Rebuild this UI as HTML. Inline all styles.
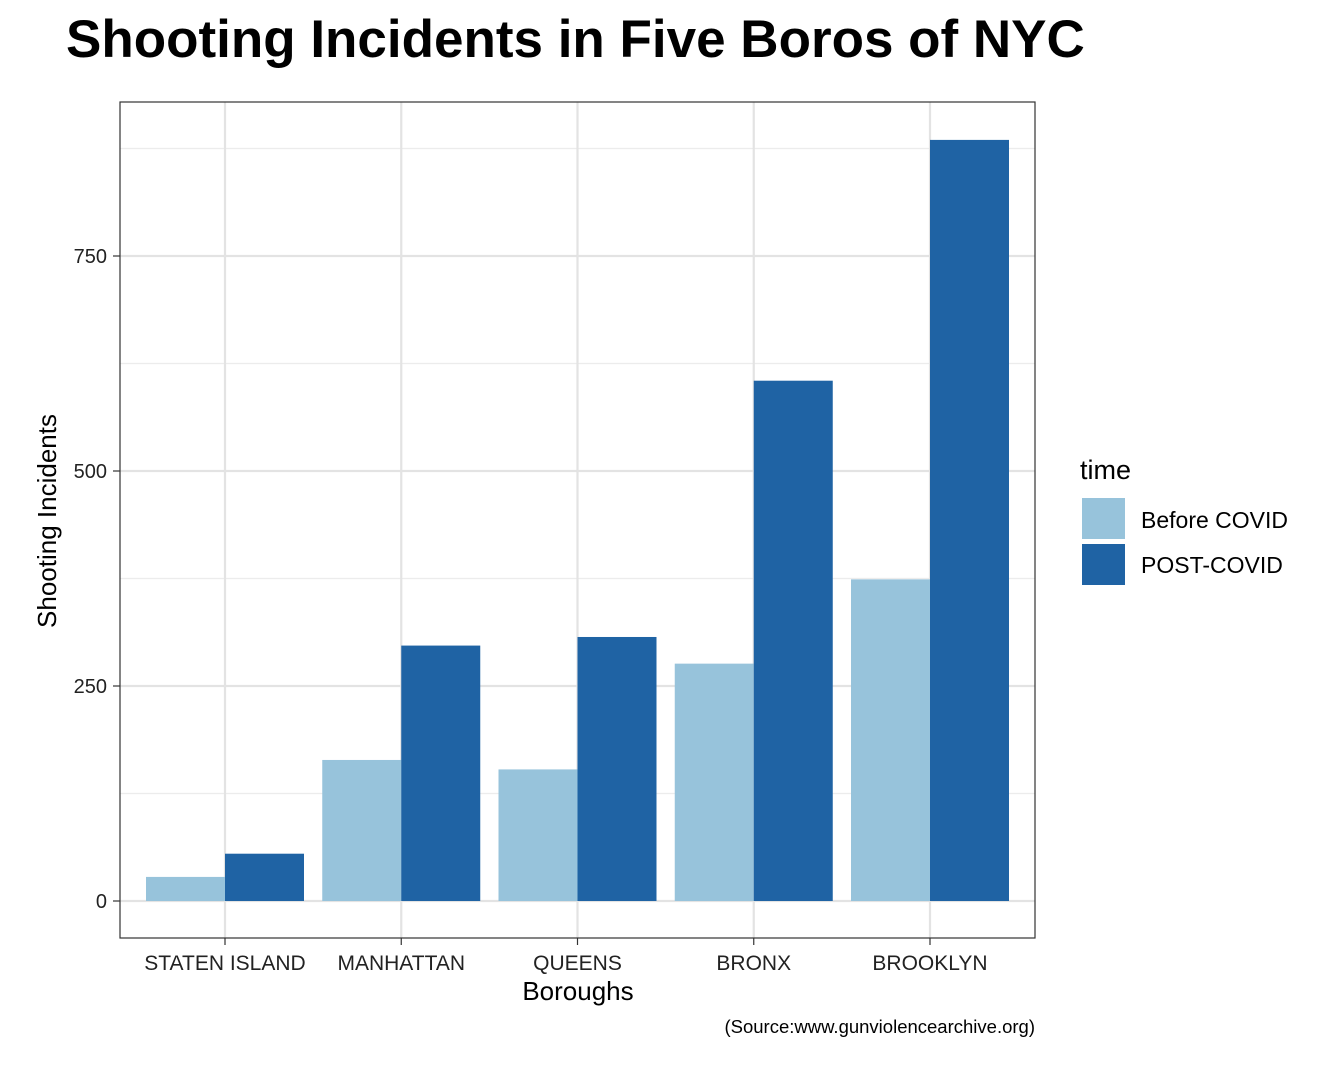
<!DOCTYPE html>
<html><head><meta charset="utf-8"><style>
body{margin:0;background:#fff;font-family:"Liberation Sans",Arial,sans-serif;}
svg text{font-family:"Liberation Sans",Arial,sans-serif;}
</style></head><body>
<svg id="chart" width="1344" height="1075" xmlns="http://www.w3.org/2000/svg">
<text x="66" y="57" font-size="53" font-weight="bold" fill="#000">Shooting Incidents in Five Boros of NYC</text>
<rect x="120" y="102" width="915" height="836" fill="#fff"/>
<g id="grid"></g>
<g id="bars"></g>
<rect x="120" y="102" width="915" height="836" fill="none" stroke="#333" stroke-width="1.2"/>
<g id="axes"></g>
<text x="578" y="1000" font-size="26" text-anchor="middle">Boroughs</text>
<text transform="translate(56,521) rotate(-90)" font-size="26" text-anchor="middle">Shooting Incidents</text>
<text x="1035" y="1033" font-size="18.5" text-anchor="end">(Source:www.gunviolencearchive.org)</text>
<g>
<text x="1080" y="479" font-size="27">time</text>
<rect x="1082" y="498" width="43" height="41" fill="#97c3db"/>
<text x="1141" y="528" font-size="23">Before COVID</text>
<rect x="1082" y="544" width="43" height="41" fill="#1f63a4"/>
<text x="1141" y="573" font-size="23">POST-COVID</text>
</g>
</svg>
<script>
const categories=["STATEN ISLAND","MANHATTAN","QUEENS","BRONX","BROOKLYN"];
const beforeCovid=[28,164,153,276,374];
const postCovid=[55,297,307,605,885];
const yTicks=[0,250,500,750];
const yMinor=[125,375,625,875];
const NS="http://www.w3.org/2000/svg";
const y=v=>901-v*0.86;
const x=i=>225+i*176.25;
const bw=79;
function mk(tag,attrs,parent){const e=document.createElementNS(NS,tag);for(const k in attrs)e.setAttribute(k,attrs[k]);parent.appendChild(e);return e;}
const grid=document.getElementById('grid'),bars=document.getElementById('bars'),axes=document.getElementById('axes');
yMinor.forEach(v=>{const l=mk('line',{x1:120,x2:1035,y1:y(v),y2:y(v),stroke:'#ececec','stroke-width':1.2},grid);

});
yTicks.forEach(v=>{const l=mk('line',{x1:120,x2:1035,y1:y(v),y2:y(v),stroke:'#e3e3e3','stroke-width':2.2},grid);


const t=mk('line',{x1:113,x2:120,y1:y(v),y2:y(v),stroke:'#333','stroke-width':1.2},axes);


const tx=mk('text',{x:107,y:y(v)+7,'font-size':20,'text-anchor':'end',fill:'#222'},axes);tx.textContent=v;

});
categories.forEach((c,i)=>{const l=mk('line',{x1:x(i),x2:x(i),y1:102,y2:938,stroke:'#e3e3e3','stroke-width':2.2},grid);


const b1=mk('rect',{x:x(i)-bw,y:y(beforeCovid[i]),width:bw,height:y(0)-y(beforeCovid[i]),fill:'#97c3db'},bars);


const b2=mk('rect',{x:x(i),y:y(postCovid[i]),width:bw,height:y(0)-y(postCovid[i]),fill:'#1f63a4'},bars);


const t=mk('line',{x1:x(i),x2:x(i),y1:938,y2:945,stroke:'#333','stroke-width':1.2},axes);


const tx=mk('text',{x:x(i),y:970,'font-size':21,'text-anchor':'middle',fill:'#222'},axes);tx.textContent=c;

});
</script>
</body></html>
